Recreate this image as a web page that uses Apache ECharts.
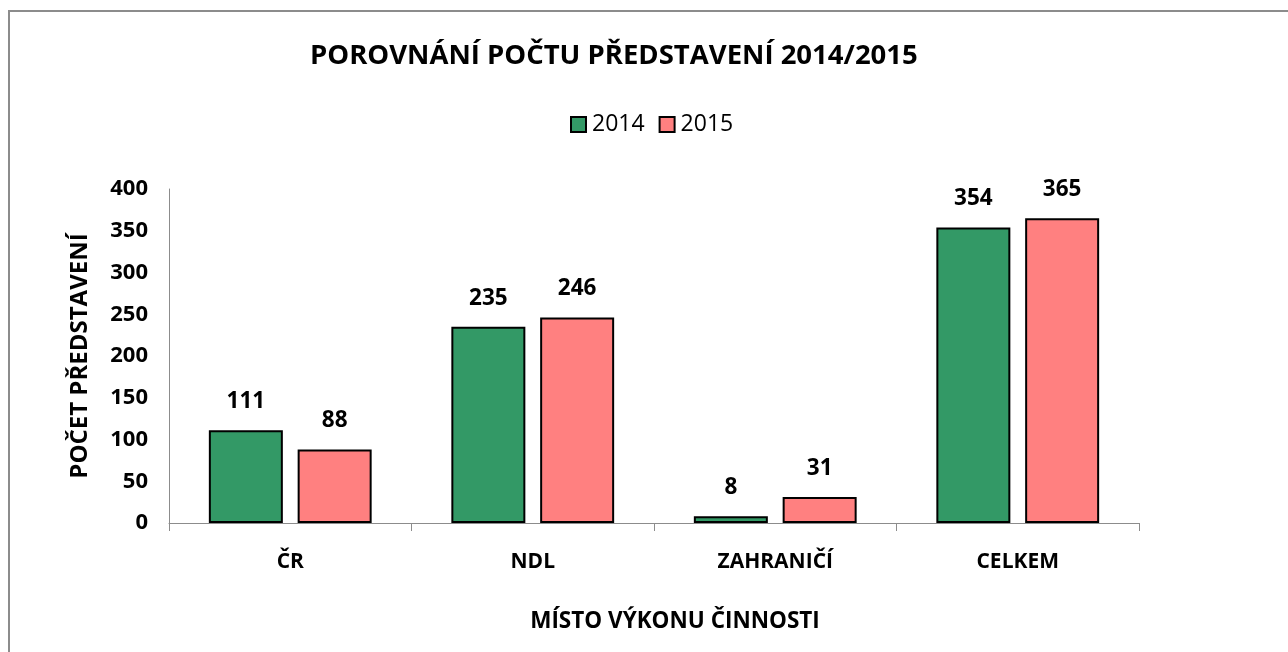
<!DOCTYPE html>
<html>
<head>
<meta charset="utf-8">
<script src="https://cdn.jsdelivr.net/npm/echarts@6/dist/echarts.min.js"></script>
<style>
  html, body { margin: 0; padding: 0; background: #fff; }
  #frame { position: absolute; left: 8px; top: 10px; width: 1300px; height: 700px; border: 1px solid #8c8c8c; border-width: 2px 0 0 2px; }
  #chart { position: absolute; left: 0; top: 0; width: 1288px; height: 652px; }
</style>
</head>
<body>
<div id="frame"></div>
<div id="chart"></div>
<script>
var categories = ['ČR', 'NDL', 'ZAHRANIČÍ', 'CELKEM'];
var values2014 = [111, 235, 8, 354];
var values2015 = [88, 246, 31, 365];
var seriesNames = ['2014', '2015'];

var font = '"Open Sans", Lato, sans-serif';
var chart = echarts.init(document.getElementById('chart'));

function barSeries(name, data, color) {
    return {
        name: name,
        type: 'bar',
        data: data,
        barWidth: 74,
        barGap: '20%',
        itemStyle: { color: color, borderColor: '#000', borderWidth: 2 },
        label: {
            show: true,
            position: 'top',
            distance: 17,
            fontFamily: font,
            fontWeight: 'bold',
            fontSize: 22.5,
            color: '#000'
        }
    };
}

chart.setOption({
    animation: false,
    title: {
        text: 'POROVNÁNÍ POČTU PŘEDSTAVENÍ 2014/2015',
        left: 305,
        top: 37,
        textStyle: { fontFamily: font, fontWeight: 'bold', fontSize: 27.5, color: '#000' }
    },
    legend: {
        data: seriesNames,
        top: 108,
        left: 565,
        itemWidth: 15,
        itemHeight: 15,
        itemGap: 14,
        icon: 'rect',
        itemStyle: { borderColor: '#000', borderWidth: 2 },
        textStyle: { fontFamily: font, fontSize: 23, color: '#000', padding: [0, 0, 0, 1] }
    },
    grid: { left: 169, right: 149, top: 189, bottom: 129 },
    xAxis: {
        type: 'category',
        data: categories,
        name: 'MÍSTO VÝKONU ČINNOSTI',
        nameLocation: 'middle',
        nameGap: 87,
        // the axis title sits right of the plot centre
        nameTextStyle: { fontFamily: font, fontWeight: 'bold', fontSize: 22.5, color: '#000', padding: [0, 0, 0, 42] },
        axisLine: { lineStyle: { color: '#8c8c8c', width: 1 } },
        axisTick: { show: true, alignWithLabel: false, length: 8, lineStyle: { color: '#8c8c8c' } },
        axisLabel: { fontFamily: font, fontWeight: 'bold', fontSize: 21, color: '#000', margin: 29 }
    },
    yAxis: {
        type: 'value',
        min: 0,
        max: 400,
        interval: 50,
        name: 'POČET PŘEDSTAVENÍ',
        nameLocation: 'middle',
        nameGap: 77,
        nameRotate: 90,
        nameTextStyle: { fontFamily: font, fontWeight: 'bold', fontSize: 24, color: '#000' },
        axisLine: { show: true, lineStyle: { color: '#8c8c8c', width: 1 } },
        axisTick: { show: false },
        splitLine: { show: false },
        axisLabel: { fontFamily: font, fontWeight: 'bold', fontSize: 22, color: '#000', margin: 21 }
    },
    series: [
        barSeries(seriesNames[0], values2014, '#339966'),
        barSeries(seriesNames[1], values2015, '#FF8080')
    ]
});
</script>
</body>
</html>
